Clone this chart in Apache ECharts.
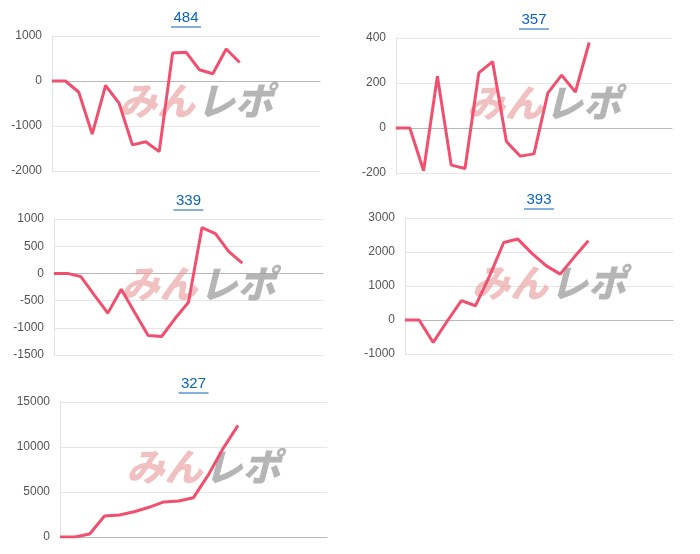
<!DOCTYPE html>
<html>
<head>
<meta charset="utf-8">
<script src="https://cdn.jsdelivr.net/npm/echarts@6/dist/echarts.min.js"></script>
<style>
  html, body { margin: 0; padding: 0; background: #fff; }
  #main { width: 700px; height: 554px; }
</style>
</head>
<body>
<div id="main"></div>
<script>
// chart titles
var titles = ['484', '357', '339', '393', '327'];
// number of days on each x axis
var dayCounts = [21, 21, 21, 20, 19];
// series values
var values1 = [0, 0, -250, -1180, -100, -490, -1420, -1350, -1570, 620, 640, 250, 160, 710, 410];
var values2 = [0, 0, -190, 230, -165, -180, 245, 295, -60, -125, -115, 155, 235, 160, 380];
var values3 = [0, 0, -60, -400, -730, -290, -720, -1140, -1160, -830, -530, 840, 730, 400, 190];
var values4 = [0, 0, -660, -30, 570, 420, 1300, 2280, 2380, 1960, 1600, 1350, 1850, 2330];
var values5 = [0, 0, 330, 2330, 2440, 2800, 3300, 3900, 4000, 4370, 6900, 9850, 12400];
// y axis ranges [min, max, interval]
var yRanges = [[-2000, 1000, 1000], [-200, 400, 200], [-1500, 1000, 500], [-1000, 3000, 1000], [0, 15000, 5000]];

var allValues = [values1, values2, values3, values4, values5];
// panel boxes: left, right, top, bottom (px)
var boxes = [
  [52, 320, 36, 171],
  [396, 672, 38, 173],
  [54, 323, 219, 355],
  [405, 673, 218, 354],
  [60, 327, 402, 537]
];

var chart = echarts.init(document.getElementById('main'));
var grids = [], xAxes = [], yAxes = [], series = [], graphics = [];

boxes.forEach(function (b, i) {
  var cx = (b[0] + b[1]) / 2;
  grids.push({ left: b[0], width: b[1] - b[0], top: b[2], height: b[3] - b[2] });
  var cats = [];
  for (var d = 1; d <= dayCounts[i]; d++) cats.push(String(d));
  xAxes.push({
    gridIndex: i, type: 'category', boundaryGap: false, data: cats,
    axisLine: { show: true, onZero: true, lineStyle: { color: '#b8b8b8' } },
    axisTick: { show: false }, axisLabel: { show: false }
  });
  yAxes.push({
    gridIndex: i, type: 'value',
    min: yRanges[i][0], max: yRanges[i][1], interval: yRanges[i][2],
    axisLine: { show: true, lineStyle: { color: '#e2e2e2' } },
    axisTick: { show: false },
    axisLabel: {
      color: '#555', fontSize: 12, fontFamily: 'Helvetica, Arial, sans-serif', margin: 10,
      formatter: function (v) { return String(v); }
    },
    splitLine: { lineStyle: { color: '#e6e6e6' } }
  });
  series.push({
    type: 'line', xAxisIndex: i, yAxisIndex: i, data: allValues[i],
    symbol: 'none', z: 5,
    lineStyle: { color: '#f0506e', width: 3 }
  });
  var ty = b[2] - 18;
  graphics.push({
    type: 'text', x: cx, y: ty, z: 10,
    style: { text: titles[i], fill: '#0b63c1', font: '15px Helvetica, Arial, sans-serif', align: 'center', verticalAlign: 'middle' }
  });
  graphics.push({
    type: 'line', shape: { x1: cx - 15, y1: ty + 9, x2: cx + 15, y2: ty + 9 },
    style: { stroke: '#0b63c1', lineWidth: 1 }
  });
  // watermark
  var wy = (b[2] + b[3]) / 2 - 3;
  graphics.push({
    type: 'text', x: cx + 9, y: wy, z: 1,
    style: { text: 'みん', fill: 'rgba(232,150,150,0.6)', font: 'italic 900 38px "Noto Sans CJK JP"', align: 'right', verticalAlign: 'middle' }
  });
  graphics.push({
    type: 'text', x: cx + 11, y: wy, z: 1,
    style: { text: 'レポ', fill: 'rgba(150,150,150,0.7)', font: 'italic 900 38px "Noto Sans CJK JP"', align: 'left', verticalAlign: 'middle' }
  });
});

chart.setOption({
  animation: false,
  grid: grids,
  xAxis: xAxes,
  yAxis: yAxes,
  series: series,
  graphic: graphics
});
</script>
</body>
</html>
